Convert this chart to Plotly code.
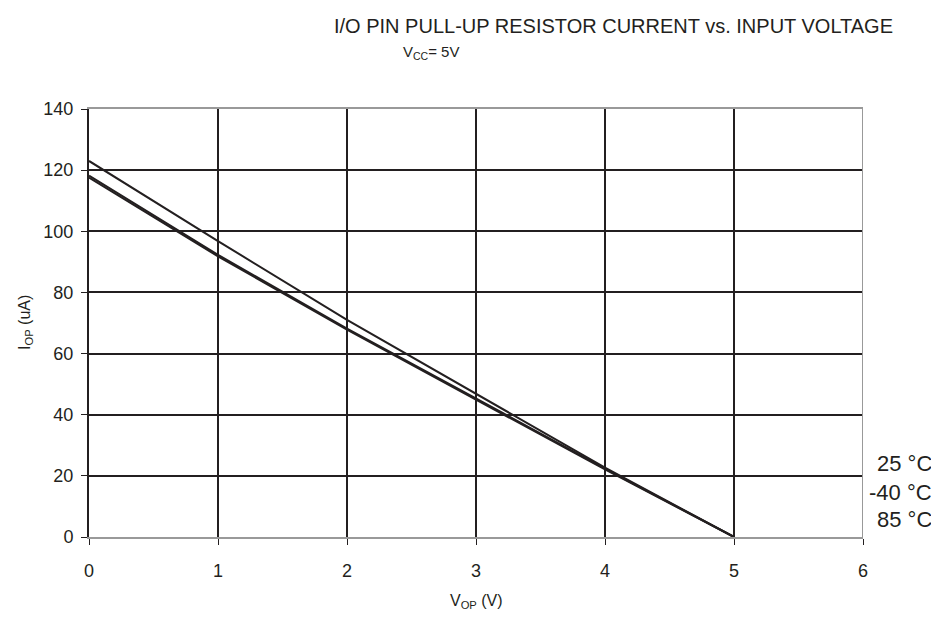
import plotly.graph_objects as go

v_op = [0, 1, 2, 3, 4, 5]
i_25 = [123.0, 96.8, 71.0, 46.8, 22.7, 0.0]
i_m40 = [118.2, 92.3, 68.2, 45.3, 22.4, 0.0]
i_85 = [117.6, 91.8, 67.8, 44.9, 22.1, 0.0]
series = [("25 °C", i_25), ("-40 °C", i_m40), ("85 °C", i_85)]

x_ticks = [0, 1, 2, 3, 4, 5, 6]
y_ticks = [0, 20, 40, 60, 80, 100, 120, 140]

INK = "#231f20"
FONT = "Liberation Sans, Arial, sans-serif"

# page pixel -> paper coords (plot area on page: x 89..863, y 109..537)
def px(x):
    return (x - 89) / 774.0

def py(y):
    return (537 - y) / 428.0

fig = go.Figure()
for name, vals in series:
    fig.add_trace(go.Scatter(x=v_op, y=vals, mode="lines", name=name,
                             line=dict(color=INK, width=2), showlegend=False))

fig.update_layout(
    width=931, height=609,
    margin=dict(l=81, r=76, t=101, b=80),
    paper_bgcolor="white", plot_bgcolor="white",
    font=dict(family=FONT, color=INK, size=18),
    xaxis=dict(range=[0, 6], tickvals=x_ticks, showgrid=True, gridcolor=INK, gridwidth=2,
               zeroline=False, showline=True, linecolor="#999999", linewidth=2, mirror=True,
               ticks="outside", ticklen=6, tickcolor=INK, tickwidth=1,
               tickfont=dict(size=18), ticklabelstandoff=10),
    yaxis=dict(range=[0, 140], tickvals=y_ticks, showgrid=True, gridcolor=INK, gridwidth=2,
               zeroline=False, showline=True, linecolor=INK, linewidth=2, mirror=False,
               ticks="outside", ticklen=6, tickcolor=INK, tickwidth=1,
               tickfont=dict(size=18), ticklabelstandoff=4),
)

# right border (gray)
fig.add_shape(type="line", xref="x", yref="paper", x0=6, x1=6, y0=0, y1=1,
              line=dict(color="#999999", width=2))

fig.add_annotation(text="I/O PIN PULL-UP RESISTOR CURRENT vs. INPUT VOLTAGE",
                   xref="paper", yref="paper", x=px(613), y=py(26),
                   showarrow=False, font=dict(size=20, color=INK), xanchor="center", yanchor="middle")
fig.add_annotation(text="V<sub>CC</sub>= 5V",
                   xref="paper", yref="paper", x=px(431), y=py(52),
                   showarrow=False, font=dict(size=15, color=INK), xanchor="center", yanchor="middle")

fig.add_annotation(text="V<sub>OP</sub> (V)", xref="paper", yref="paper",
                   x=px(476), y=py(601), showarrow=False, font=dict(size=16, color=INK),
                   xanchor="center", yanchor="middle")
fig.add_annotation(text="I<sub>OP</sub> (uA)", xref="paper", yref="paper",
                   x=px(25), y=py(323), showarrow=False, font=dict(size=16, color=INK),
                   textangle=-90, xanchor="center", yanchor="middle")

label_y = [463, 492, 519]
for (name, _), yy in zip(series, label_y):
    fig.add_annotation(text=name, xref="paper", yref="paper",
                       x=px(934), y=py(yy),
                       showarrow=False, font=dict(size=22, color=INK),
                       xanchor="right", yanchor="middle")

fig.write_html("out.html")
